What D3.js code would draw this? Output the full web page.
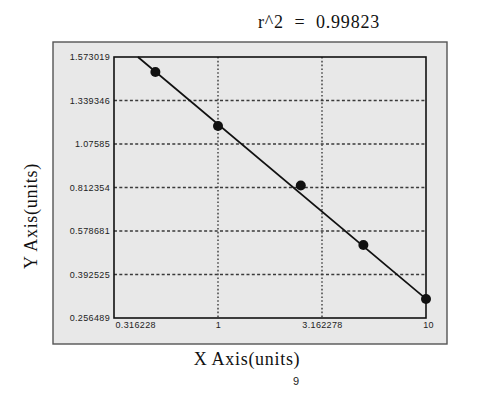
<!DOCTYPE html>
<html><head><meta charset="utf-8">
<script src="https://cdn.jsdelivr.net/npm/d3@7"></script>
<style>body{margin:0;background:#fff}svg{display:block}</style>
</head><body>
<script>
const xTicks = [0.316228, 1, 3.162278, 10];
const xTickLabels = ["0.316228", "1", "3.162278", "10"];
const yTicks = [1.573019, 1.339346, 1.07585, 0.812354, 0.578681, 0.392525, 0.256489];
const yTickLabels = ["1.573019", "1.339346", "1.07585", "0.812354", "0.578681", "0.392525", "0.256489"];
const pointX = [0.5, 1, 2.5, 5, 10];
const pointY = [1.492, 1.185, 0.824, 0.519, 0.316];
const fitX = [0.412, 10];
const fitY = [1.573019, 0.316];
const title = "r^2  =  0.99823";

const W = 490, H = 395;
const svg = d3.select("body").append("svg").attr("width", W).attr("height", H);
const L = 114, R = 426, T = 57, B = 318;

// panel
svg.append("rect").attr("x", 53).attr("y", 42).attr("width", 394).attr("height", 302)
  .attr("fill", "#e8e8e8").attr("stroke", "#555").attr("stroke-width", 1.4);

const x = d3.scaleLog().domain([xTicks[0], xTicks[3]]).range([L, R]);
const yRange = yTicks.map((d, i) => T + i * (B - T) / (yTicks.length - 1));
const y = d3.scaleLinear().domain(yTicks).range(yRange);

// grid
const g = svg.append("g");
g.selectAll(".hg").data(yTicks.slice(1, -1)).join("line")
  .attr("x1", L).attr("x2", R).attr("y1", d => y(d)).attr("y2", d => y(d))
  .attr("stroke", "#3a3a3a").attr("stroke-width", 1.4).attr("stroke-dasharray", "3,2.3");
g.selectAll(".vg").data(xTicks.slice(1, -1)).join("line")
  .attr("y1", T).attr("y2", B).attr("x1", d => x(d)).attr("x2", d => x(d))
  .attr("stroke", "#3a3a3a").attr("stroke-width", 1.4).attr("stroke-dasharray", "1.6,2.2");

// axes frame
svg.append("rect").attr("x", L).attr("y", T).attr("width", R - L).attr("height", B - T)
  .attr("fill", "none").attr("stroke", "#111").attr("stroke-width", 1.6);

const sans = "Arial, 'Liberation Sans', sans-serif";
// y ticks labels
const yAxis = d3.axisLeft(y).tickValues(yTicks).tickFormat((d, i) => yTickLabels[i]).tickSize(0).tickPadding(4);
const ya = svg.append("g").attr("transform", `translate(${L},0)`).call(yAxis);
ya.select(".domain").remove();
ya.selectAll("text").attr("font-family", sans).attr("font-size", 9).attr("letter-spacing", 0.35).attr("fill", "#222");

const xAxis = d3.axisBottom(x).tickValues(xTicks).tickFormat((d, i) => xTickLabels[i]).tickSize(0).tickPadding(4);
const xa = svg.append("g").attr("transform", `translate(0,${B})`).call(xAxis);
xa.select(".domain").remove();
xa.selectAll("text").attr("font-family", sans).attr("font-size", 9).attr("letter-spacing", 0.35).attr("fill", "#222")
  .attr("text-anchor", (d, i) => i === 0 ? "start" : "middle")
  .attr("dx", (d, i) => i === 0 ? 1 : (i === 3 ? 2 : 0));

// fit line
const line = d3.line().x(d => x(d[0])).y(d => y(d[1]));
svg.append("path").datum(fitX.map((d, i) => [d, fitY[i]])).attr("d", line)
  .attr("fill", "none").attr("stroke", "#111").attr("stroke-width", 1.7);

// points
svg.selectAll(".pt").data(pointX.map((d, i) => [d, pointY[i]])).join("circle")
  .attr("cx", d => x(d[0])).attr("cy", d => y(d[1])).attr("r", 5).attr("fill", "#111");

// text
const serif = "'Liberation Serif', 'Times New Roman', serif";
svg.append("text").attr("x", 319).attr("y", 28).attr("text-anchor", "middle")
  .attr("font-family", serif).attr("font-size", 18).attr("letter-spacing", 0.8).attr("fill", "#111").style("white-space", "pre").text(title);
svg.append("text").attr("x", 247).attr("y", 365).attr("text-anchor", "middle")
  .attr("font-family", serif).attr("font-size", 18).attr("letter-spacing", 0.7).attr("fill", "#111").text("X Axis(units)");
svg.append("text").attr("transform", "translate(37,216) rotate(-90)").attr("text-anchor", "middle")
  .attr("font-family", serif).attr("font-size", 18).attr("letter-spacing", 0.7).attr("fill", "#111").text("Y Axis(units)");
svg.append("text").attr("x", 296).attr("y", 385).attr("text-anchor", "middle")
  .attr("font-family", sans).attr("font-size", 11).attr("fill", "#222").text("9");
</script>
</body></html>
